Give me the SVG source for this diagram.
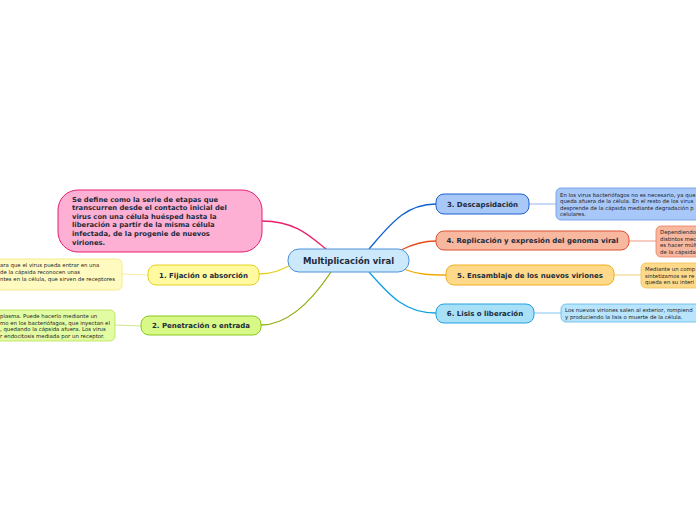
<svg xmlns="http://www.w3.org/2000/svg" width="696" height="520" viewBox="0 0 696 520">
<style>
.bold{font-family:"DejaVu Sans","Liberation Sans",sans-serif;font-weight:bold;fill:#1d2b3a}
.node{font-size:7px;text-anchor:middle}
.note{font-family:"DejaVu Sans","Liberation Sans",sans-serif;font-size:5.4px;fill:#222}
.conn{fill:none;stroke-width:1.3}
.thin{fill:none;stroke-width:0.8}
</style>
<rect width="696" height="520" fill="#ffffff"/>
<g id="connectors">
<path class="conn" d="M262,221 C295,221 310,236 327,250" stroke="#e8206e"/>
<path class="conn" d="M259,274 C275,274 284,268 293,264" stroke="#e8d020"/>
<path class="conn" d="M261,325 C290,325 315,296 331,272" stroke="#8cb010"/>
<path class="conn" d="M369,249 C390,225 405,204 436,204" stroke="#1060d0"/>
<path class="conn" d="M401,250 C415,243 425,241 436,241" stroke="#e84a1a"/>
<path class="conn" d="M403,269 C420,275 430,275 446,275" stroke="#f0a800"/>
<path class="conn" d="M369,272 C390,296 405,313 436,313" stroke="#10a0e0"/>
<path class="thin" d="M122,274 L148,275" stroke="#f5e68a"/>
<path class="thin" d="M115,325 L141,326" stroke="#c0e070"/>
<path class="thin" d="M529,204 L556,204" stroke="#7aa4e6"/>
<path class="thin" d="M629,241 L656,241" stroke="#e88060"/>
<path class="thin" d="M614,275 L641,275" stroke="#f0c050"/>
<path class="thin" d="M534,313 L561,313" stroke="#60b8e8"/>
</g>
<g id="central">
<rect x="288" y="249" width="121" height="23" rx="11" fill="#cce8fb" stroke="#4a90d9" stroke-width="1"/>
<text class="bold" x="348.5" y="263.5" font-size="8.5" text-anchor="middle" fill="#1a2a4f">Multiplicación viral</text>
</g>
<g id="definition">
<rect x="58" y="190" width="204" height="62" rx="20" fill="#fdb0d3" stroke="#e8206e" stroke-width="1"/>
<text class="bold" font-size="6.8">
<tspan x="72" y="201.5">Se define como la serie de etapas que</tspan>
<tspan x="72" y="210.1">transcurren desde el contacto inicial del</tspan>
<tspan x="72" y="218.7">virus con una célula huésped hasta la</tspan>
<tspan x="72" y="227.3">liberación a partir de la misma célula</tspan>
<tspan x="72" y="235.9">infectada, de la progenie de nuevos</tspan>
<tspan x="72" y="244.5">viriones.</tspan>
</text>
</g>
<g id="n1">
<rect x="148" y="265" width="111" height="20" rx="8" fill="#fffaa0" stroke="#e8d020" stroke-width="1"/>
<text class="bold node" x="203.5" y="277.5">1. Fijación o absorción</text>
</g>
<g id="note1">
<rect x="-10" y="259" width="132" height="31" rx="5" fill="#fffbc0" stroke="#f5e67a" stroke-width="0.8"/>
<text class="note"><tspan x="0" y="267">ara que el virus pueda entrar en una</tspan><tspan x="0" y="274">de la cápsida reconocen unas</tspan><tspan x="0" y="281">ntes en la célula, que sirven de receptores</tspan></text>
</g>
<g id="n2">
<rect x="141" y="316" width="120" height="19" rx="8" fill="#d8f888" stroke="#8cc820" stroke-width="1"/>
<text class="bold node" x="201" y="328">2. Penetración o entrada</text>
</g>
<g id="note2">
<rect x="-10" y="310" width="125" height="31" rx="5" fill="#e2fca4" stroke="#b8e050" stroke-width="0.8"/>
<text class="note"><tspan x="0" y="318">plasma. Puede hacerlo mediante un</tspan><tspan x="0" y="324.5">mo en los bacteriófagos, que inyectan el</tspan><tspan x="0" y="331">, quedando la cápsida afuera. Los virus</tspan><tspan x="0" y="337.5">r endocitosis mediada por un receptor.</tspan></text>
</g>
<g id="n3">
<rect x="436" y="194" width="93" height="20" rx="8" fill="#a8c8f8" stroke="#2060d0" stroke-width="1"/>
<text class="bold node" x="482.5" y="206.5">3. Descapsidación</text>
</g>
<g id="note3">
<rect x="556" y="188" width="150" height="32" rx="5" fill="#a8c8fa" stroke="#6898e0" stroke-width="0.8"/>
<text class="note"><tspan x="560" y="196.5">En los virus bacteriófagos no es necesario, ya que</tspan><tspan x="560" y="203">queda afuera de la célula. En el resto de los virus</tspan><tspan x="560" y="209.5">desprende de la cápsida mediante degradación p</tspan><tspan x="560" y="216">celulares.</tspan></text>
</g>
<g id="n4">
<rect x="436" y="231" width="193" height="19" rx="8" fill="#f8b8a0" stroke="#e05030" stroke-width="1"/>
<text class="bold node" x="532.5" y="243">4. Replicación y expresión del genoma viral</text>
</g>
<g id="note4">
<rect x="656" y="226" width="50" height="31" rx="5" fill="#f8b8a0" stroke="#e88060" stroke-width="0.8"/>
<text class="note"><tspan x="660" y="234">Dependiendo d</tspan><tspan x="660" y="240.5">distintos mecan</tspan><tspan x="660" y="247">es hacer múltip</tspan><tspan x="660" y="253.5">de la cápsida p</tspan></text>
</g>
<g id="n5">
<rect x="446" y="265" width="168" height="20" rx="8" fill="#ffd98a" stroke="#f0b020" stroke-width="1"/>
<text class="bold node" x="530" y="277.5">5. Ensamblaje de los nuevos viriones</text>
</g>
<g id="note5">
<rect x="641" y="263" width="65" height="25" rx="5" fill="#ffd98a" stroke="#f0c050" stroke-width="0.8"/>
<text class="note"><tspan x="645" y="271">Mediante un comp</tspan><tspan x="645" y="277.5">sintetizamos se re</tspan><tspan x="645" y="284">queda en su interi</tspan></text>
</g>
<g id="n6">
<rect x="436" y="304" width="98" height="19" rx="8" fill="#a8e0f8" stroke="#20a0e0" stroke-width="1"/>
<text class="bold node" x="485" y="316">6. Lisis o liberación</text>
</g>
<g id="note6">
<rect x="561" y="304" width="145" height="18" rx="5" fill="#b8e4fc" stroke="#60b8e8" stroke-width="0.8"/>
<text class="note"><tspan x="565" y="312">Los nuevos viriones salen al exterior, rompiend</tspan><tspan x="565" y="318.5">y produciendo la lisis o muerte de la célula.</tspan></text>
</g>
</svg>
